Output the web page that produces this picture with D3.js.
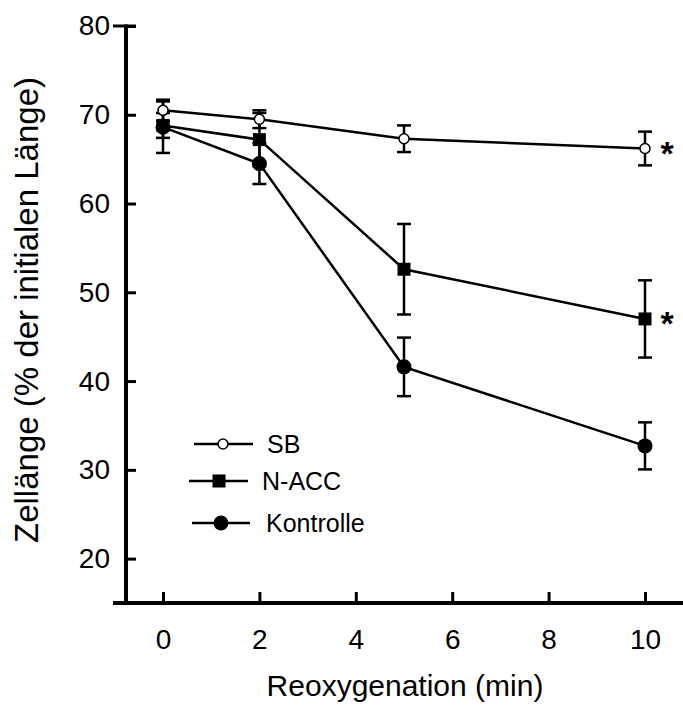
<!DOCTYPE html>
<html>
<head>
<meta charset="utf-8">
<script src="https://cdn.jsdelivr.net/npm/d3@7"></script>
<style>
  html, body { margin: 0; padding: 0; background: #fff; }
  svg text { font-family: "Liberation Sans", Arial, Helvetica, sans-serif; fill: #000; }
</style>
</head>
<body>
<svg id="chart" width="683" height="705"></svg>
<script>
// -----------------------------------------------------------------------------
// data

var times = [0, 2, 5, 10];

var sbMean = [70.5, 69.5, 67.3, 66.2];
var sbErr = [1.2, 1.0, 1.5, 1.9];

var naccMean = [68.8, 67.2, 52.6, 47.0];
var naccErr = [1.4, 3.0, 5.1, 4.35];

var kontMean = [68.6, 64.5, 41.6, 32.7];
var kontErr = [2.9, 2.3, 3.3, 2.65];

var xTicks = [0, 2, 4, 6, 8, 10];
var yTicks = [20, 30, 40, 50, 60, 70, 80];

var seriesNames = ['SB', 'N-ACC', 'Kontrolle'];
var significant = [true, true, false];

// -----------------------------------------------------------------------------

var svg = d3.select('#chart');

var x = d3.scaleLinear().domain([0, 10]).range([163, 645]);
var y = d3.scaleLinear().domain([15, 80]).range([603, 26]);

var axisX = 126;      // where the y axis sits
var axisY = y(15);    // where the x axis sits

// - - - - - - - - - - - - - - - - - - - - - - - - - - - - - - - - - - - - - -
// axes

var gy = svg.append('g')
  .attr('transform', 'translate(' + axisX + ',0)')
  .call(
    d3.axisLeft(y)
      .tickValues(yTicks)
      .tickSize(-10)
      .tickPadding(16)
      .tickFormat(d3.format('d'))
  );
gy.select('.domain').remove();
gy.selectAll('.tick line').attr('stroke', '#000').attr('stroke-width', 3);
gy.selectAll('.tick text')
  .attr('font-size', 28)
  .attr('font-family', null);

var gx = svg.append('g')
  .attr('transform', 'translate(0,' + axisY + ')')
  .call(
    d3.axisBottom(x)
      .tickValues(xTicks)
      .tickSize(-11)
      .tickPadding(26)
      .tickFormat(d3.format('d'))
  );
gx.select('.domain').remove();
gx.selectAll('.tick line').attr('stroke', '#000').attr('stroke-width', 3);
gx.selectAll('.tick text')
  .attr('font-size', 28)
  .attr('font-family', null);

// axis lines and the cap at the top of the y axis
svg.append('line')
  .attr('x1', axisX).attr('x2', axisX)
  .attr('y1', y(80) - 1.5).attr('y2', axisY)
  .attr('stroke', '#000').attr('stroke-width', 4);
svg.append('line')
  .attr('x1', 113).attr('x2', 683)
  .attr('y1', axisY).attr('y2', axisY)
  .attr('stroke', '#000').attr('stroke-width', 4);
svg.append('line')
  .attr('x1', 113).attr('x2', axisX + 10)
  .attr('y1', y(80)).attr('y2', y(80))
  .attr('stroke', '#000').attr('stroke-width', 3);

// axis titles
svg.append('text')
  .attr('x', 405)
  .attr('y', 696)
  .attr('text-anchor', 'middle')
  .attr('font-size', 30)
  .text('Reoxygenation (min)');

svg.append('text')
  .attr('transform', 'translate(38,' + 310 + ') rotate(-90)')
  .attr('text-anchor', 'middle')
  .attr('font-size', 33)
  .text('Zellänge (% der initialen Länge)');

// - - - - - - - - - - - - - - - - - - - - - - - - - - - - - - - - - - - - - -
// series

var series = [
  { name: seriesNames[2], mean: kontMean, err: kontErr, marker: 'circle', fill: '#000', r: 7.5 },
  { name: seriesNames[1], mean: naccMean, err: naccErr, marker: 'square', fill: '#000', r: 6.5 },
  { name: seriesNames[0], mean: sbMean, err: sbErr, marker: 'circle', fill: '#fff', r: 5 }
];

function pointsOf(s) {
  return times.map(function (t, i) {
    return { t: t, m: s.mean[i], e: s.err[i] };
  });
}

var capHalf = 7;

var gErr = svg.append('g');
series.forEach(function (s) {
  var g = gErr.append('g');
  var pts = pointsOf(s);
  g.selectAll('line.stem')
    .data(pts)
    .join('line')
    .classed('stem', true)
    .attr('x1', function (d) { return x(d.t); })
    .attr('x2', function (d) { return x(d.t); })
    .attr('y1', function (d) { return y(d.m + d.e); })
    .attr('y2', function (d) { return y(d.m - d.e); })
    .attr('stroke', '#000').attr('stroke-width', 2.5);
  var caps = [];
  pts.forEach(function (d) {
    caps.push({ t: d.t, v: d.m + d.e });
    caps.push({ t: d.t, v: d.m - d.e });
  });
  g.selectAll('line.cap')
    .data(caps)
    .join('line')
    .classed('cap', true)
    .attr('x1', function (d) { return x(d.t) - capHalf; })
    .attr('x2', function (d) { return x(d.t) + capHalf; })
    .attr('y1', function (d) { return y(d.v); })
    .attr('y2', function (d) { return y(d.v); })
    .attr('stroke', '#000').attr('stroke-width', 2.5);
});

var line = d3.line()
  .x(function (d) { return x(d.t); })
  .y(function (d) { return y(d.m); });

var gLines = svg.append('g');
series.forEach(function (s) {
  gLines.append('path')
    .datum(pointsOf(s))
    .attr('d', line)
    .attr('fill', 'none')
    .attr('stroke', '#000')
    .attr('stroke-width', 2.5);
});

function drawMarker(g, s, cx, cy) {
  if (s.marker === 'square') {
    g.append('rect')
      .attr('x', cx - s.r).attr('y', cy - s.r)
      .attr('width', 2 * s.r).attr('height', 2 * s.r)
      .attr('fill', s.fill);
  } else {
    g.append('circle')
      .attr('cx', cx).attr('cy', cy).attr('r', s.r)
      .attr('fill', s.fill)
      .attr('stroke', '#000')
      .attr('stroke-width', s.fill === '#fff' ? 1.5 : 0);
  }
}

var gMarks = svg.append('g');
series.forEach(function (s) {
  var g = gMarks.append('g');
  pointsOf(s).forEach(function (d) {
    drawMarker(g, s, x(d.t), y(d.m));
  });
});

// significance stars at the last time point
var gStars = svg.append('g');
[sbMean, naccMean, kontMean].forEach(function (m, i) {
  if (!significant[i]) return;
  gStars.append('text')
    .attr('x', x(times[times.length - 1]) + 22)
    .attr('y', y(m[m.length - 1]) + 16)
    .attr('text-anchor', 'middle')
    .attr('font-size', 34)
    .attr('font-weight', 'bold')
    .text('*');
});

// - - - - - - - - - - - - - - - - - - - - - - - - - - - - - - - - - - - - - -
// legend

var legendRows = [
  { s: series[2], x1: 194, x2: 253, mx: 223, y: 444, tx: 267 },
  { s: series[1], x1: 189, x2: 248, mx: 219, y: 481, tx: 262 },
  { s: series[0], x1: 192, x2: 250, mx: 221, y: 523, tx: 266 }
];

var gLegend = svg.append('g');
legendRows.forEach(function (row) {
  var g = gLegend.append('g');
  g.append('line')
    .attr('x1', row.x1).attr('x2', row.x2)
    .attr('y1', row.y).attr('y2', row.y)
    .attr('stroke', '#000').attr('stroke-width', 2.5);
  drawMarker(g, row.s, row.mx, row.y);
  g.append('text')
    .attr('x', row.tx)
    .attr('y', row.y + 9)
    .attr('font-size', 25)
    .text(row.s.name);
});

// -----------------------------------------------------------------------------
</script>
</body>
</html>
